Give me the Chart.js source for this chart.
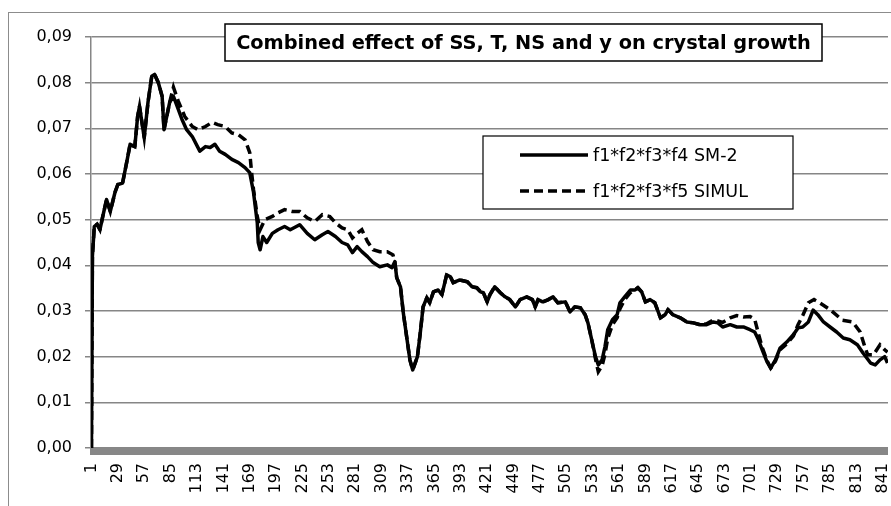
<!DOCTYPE html>
<html><head><meta charset="utf-8">
<script src="https://cdn.jsdelivr.net/npm/chart.js@4.4.1/dist/chart.umd.min.js"></script>
<style>html,body{margin:0;padding:0;background:#fff;overflow:hidden}#wrap{width:891px;height:506px}</style>
</head><body><div id="wrap"><canvas id="c" width="891" height="506"></canvas></div>
<script>
const chartTitle = 'Combined effect of SS, T, NS and y on crystal growth';
const seriesNames = ['f1*f2*f3*f4 SM-2', 'f1*f2*f3*f5 SIMUL'];
const categoryCount = 846;
const xTickLabels = [1,29,57,85,113,141,169,197,225,253,281,309,337,365,393,421,449,477,505,533,561,589,617,645,673,701,729,757,785,813,841];
const yTicks = [0,0.01,0.02,0.03,0.04,0.05,0.06,0.07,0.08,0.09];

const sm2Index = [1,2,4,7,10,13,17,21,26,29,34,39,42,47,50,52,57,61,65,68,72,76,78,84,88,92,97,102,108,116,122,127,132,137,143,150,157,164,169,173,177,178,180,183,187,193,199,206,212,222,230,238,246,252,260,267,273,278,283,288,294,300,307,315,320,323,325,329,332,336,339,342,347,350,353,357,360,364,369,373,378,382,385,392,400,405,410,414,417,421,424,429,435,440,445,451,456,463,469,472,475,480,486,491,496,504,509,514,520,525,528,532,536,539,543,546,549,554,559,562,567,573,578,581,585,589,594,599,605,610,613,618,626,633,640,647,654,661,666,671,679,686,693,700,705,709,713,718,722,727,732,739,746,751,756,762,767,772,778,785,792,799,806,814,820,828,833,838,843,846];
const sm2Value = [0,0.042,0.0485,0.0490,0.0478,0.0507,0.0544,0.0518,0.0560,0.0577,0.0580,0.0632,0.0665,0.0660,0.0726,0.0748,0.0680,0.0757,0.0814,0.0818,0.0800,0.0770,0.0697,0.0757,0.0770,0.0748,0.0720,0.0697,0.0682,0.0650,0.0660,0.0658,0.0665,0.0650,0.0643,0.0632,0.0625,0.0614,0.0603,0.0560,0.0493,0.0450,0.0434,0.0463,0.0450,0.0470,0.0478,0.0485,0.0478,0.0489,0.0470,0.0456,0.0467,0.0474,0.0463,0.0450,0.0445,0.0428,0.0441,0.0430,0.0419,0.0406,0.0397,0.0401,0.0395,0.0408,0.0373,0.0353,0.0296,0.0237,0.0193,0.0171,0.0200,0.0252,0.0309,0.0329,0.0318,0.0342,0.0346,0.0336,0.0379,0.0375,0.0362,0.0368,0.0364,0.0353,0.0351,0.0342,0.0340,0.0320,0.0336,0.0353,0.0340,0.0331,0.0325,0.0309,0.0325,0.0331,0.0325,0.0309,0.0325,0.0320,0.0325,0.0331,0.0318,0.0320,0.0298,0.0309,0.0307,0.0292,0.0274,0.0237,0.0200,0.0182,0.0193,0.0221,0.0259,0.0281,0.0292,0.0318,0.0331,0.0346,0.0346,0.0351,0.0342,0.0320,0.0325,0.0318,0.0285,0.0292,0.0303,0.0292,0.0285,0.0276,0.0274,0.0270,0.0270,0.0276,0.0274,0.0265,0.0270,0.0265,0.0265,0.0259,0.0254,0.0237,0.0215,0.0189,0.0175,0.0193,0.0219,0.0232,0.0248,0.0263,0.0265,0.0276,0.0302,0.0292,0.0276,0.0265,0.0254,0.0241,0.0237,0.0226,0.0208,0.0186,0.0182,0.0193,0.0200,0.0186];

const simulIndex = [1,2,4,7,10,13,17,21,26,29,34,39,42,47,50,52,57,61,65,68,72,76,78,84,88,93,100,108,114,122,129,135,143,150,157,164,169,171,173,177,180,185,193,199,206,214,222,230,238,246,254,260,267,273,278,283,288,294,300,307,315,321,323,325,329,332,336,339,342,347,350,353,357,360,364,369,373,378,382,385,392,400,405,410,414,417,421,424,429,435,440,445,451,456,463,469,472,475,480,486,491,496,504,509,514,520,525,528,532,536,539,543,546,549,554,559,562,567,573,578,581,585,589,594,599,605,610,613,618,626,633,640,647,654,661,666,671,679,686,693,700,705,709,713,718,722,727,732,739,746,751,756,762,768,774,785,798,809,817,822,825,831,838,843,846];
const simulValue = [0,0.042,0.0485,0.0490,0.0478,0.0507,0.0544,0.0518,0.0560,0.0577,0.0580,0.0632,0.0665,0.0660,0.0726,0.0748,0.0680,0.0757,0.0814,0.0818,0.0800,0.0770,0.0697,0.0757,0.0790,0.0760,0.0726,0.0704,0.0697,0.0704,0.0713,0.0708,0.0704,0.0690,0.0686,0.0675,0.0647,0.0603,0.0566,0.0507,0.0478,0.0500,0.0507,0.0515,0.0522,0.0518,0.0518,0.0504,0.0496,0.0511,0.0507,0.0493,0.0482,0.0478,0.0460,0.0470,0.0478,0.0452,0.0434,0.0430,0.0430,0.0423,0.0408,0.0373,0.0353,0.0296,0.0237,0.0193,0.0171,0.0200,0.0252,0.0309,0.0329,0.0318,0.0342,0.0346,0.0336,0.0379,0.0375,0.0362,0.0368,0.0364,0.0353,0.0351,0.0342,0.0340,0.0320,0.0336,0.0353,0.0340,0.0331,0.0325,0.0309,0.0325,0.0331,0.0325,0.0309,0.0325,0.0320,0.0325,0.0331,0.0318,0.0320,0.0298,0.0309,0.0307,0.0292,0.0274,0.0237,0.0195,0.0167,0.0180,0.0205,0.0240,0.0270,0.0285,0.0305,0.0325,0.0340,0.0346,0.0351,0.0342,0.0320,0.0325,0.0318,0.0285,0.0292,0.0303,0.0292,0.0285,0.0276,0.0274,0.0270,0.0272,0.0280,0.0278,0.0275,0.0285,0.0290,0.0287,0.0288,0.0282,0.0250,0.0220,0.0192,0.0175,0.0190,0.0215,0.0228,0.0245,0.0270,0.0290,0.0318,0.0325,0.0318,0.0303,0.0280,0.0276,0.0254,0.0221,0.0204,0.0204,0.0226,0.0215,0.0210];

const toPoints = (xs, ys) => xs.map((x, i) => ({x: x, y: ys[i]}));
const GRID = '#868686';
const TICK_FONT = {family: "'DejaVu Sans', sans-serif", size: 16};

const decor = {
  id: 'decor',
  beforeDraw(chart) {
    const ctx = chart.ctx;
    ctx.save();
    ctx.fillStyle = '#fff';
    ctx.fillRect(0, 0, chart.width, chart.height);
    ctx.strokeStyle = '#8c8c8c';
    ctx.lineWidth = 1;
    ctx.strokeRect(8.5, 12.5, chart.width + 20, chart.height + 20);
    ctx.restore();
  },
  beforeDatasetsDraw(chart) {
    const ctx = chart.ctx, a = chart.chartArea;
    ctx.save();
    ctx.fillStyle = '#878787';
    ctx.fillRect(a.left - 1, a.bottom, a.right - a.left + 1, 7);
    ctx.restore();
  },
  afterDatasetsDraw(chart) {
    const ctx = chart.ctx;
    ctx.save();
    // title box
    const tb = {x: 225, y: 24, w: 597, h: 37};
    ctx.fillStyle = '#fff';
    ctx.fillRect(tb.x, tb.y, tb.w, tb.h);
    ctx.strokeStyle = '#000';
    ctx.lineWidth = 1.5;
    ctx.strokeRect(tb.x, tb.y, tb.w, tb.h);
    let fs = 20;
    ctx.font = "bold " + fs + "px 'DejaVu Sans', sans-serif";
    const tw = ctx.measureText(chartTitle).width;
    fs = fs * 575 / tw;
    ctx.font = "bold " + fs.toFixed(2) + "px 'DejaVu Sans', sans-serif";
    ctx.fillStyle = '#000';
    ctx.textAlign = 'center';
    ctx.textBaseline = 'middle';
    ctx.fillText(chartTitle, tb.x + tb.w / 2, tb.y + tb.h / 2 + 1);
    // legend box
    const lb = {x: 483, y: 136, w: 310, h: 73};
    ctx.fillStyle = '#fff';
    ctx.fillRect(lb.x, lb.y, lb.w, lb.h);
    ctx.lineWidth = 1.2;
    ctx.strokeRect(lb.x, lb.y, lb.w, lb.h);
    ctx.font = "17.5px 'DejaVu Sans', sans-serif";
    ctx.textAlign = 'left';
    const rows = [155, 191];
    chart.data.datasets.forEach((ds, i) => {
      const y = rows[i];
      ctx.strokeStyle = ds.borderColor;
      ctx.lineWidth = ds.borderWidth;
      ctx.setLineDash(ds.borderDash || []);
      ctx.beginPath();
      ctx.moveTo(520, y);
      ctx.lineTo(588, y);
      ctx.stroke();
      ctx.setLineDash([]);
      ctx.fillStyle = '#000';
      ctx.fillText(ds.label, 593, y + 1);
    });
    ctx.restore();
  }
};

new Chart(document.getElementById('c'), {
  type: 'line',
  data: {
    datasets: [
      {label: seriesNames[0], data: toPoints(sm2Index, sm2Value), borderColor: '#000', borderWidth: 3.5,
       pointRadius: 0, tension: 0, fill: false, borderJoinStyle: 'round'},
      {label: seriesNames[1], data: toPoints(simulIndex, simulValue), borderColor: '#000', borderWidth: 3.5,
       borderDash: [9, 5], pointRadius: 0, tension: 0, fill: false}
    ]
  },
  options: {
    responsive: false,
    animation: false,
    devicePixelRatio: 1,
    layout: {padding: {top: 37, right: 3, bottom: 0, left: 0}},
    plugins: {legend: {display: false}, title: {display: false}, tooltip: {enabled: false}},
    scales: {
      x: {
        type: 'linear', min: 0.5, max: categoryCount + 0.5,
        afterBuildTicks: s => { s.ticks = xTickLabels.map(v => ({value: v})); },
        afterFit: s => { s.height = 58; s.paddingLeft = 0; s.paddingRight = 0; },
        ticks: {autoSkip: false, minRotation: 90, maxRotation: 90, padding: 7, color: '#000', font: TICK_FONT,
                callback: v => String(v)},
        grid: {display: false, drawTicks: true, tickLength: 8},
        border: {display: false}
      },
      y: {
        min: 0, max: 0.09,
        afterBuildTicks: s => { s.ticks = yTicks.map(v => ({value: v})); },
        afterFit: s => { s.width = 91; s.paddingTop = 0; s.paddingBottom = 0; },
        ticks: {padding: 13, color: '#000', font: TICK_FONT,
                callback: v => v.toFixed(2).replace('.', ',')},
        grid: {color: GRID, lineWidth: 1.5, tickLength: 6, drawTicks: true},
        border: {display: true, color: GRID, width: 1.5}
      }
    }
  },
  plugins: [decor]
});
</script></body></html>
